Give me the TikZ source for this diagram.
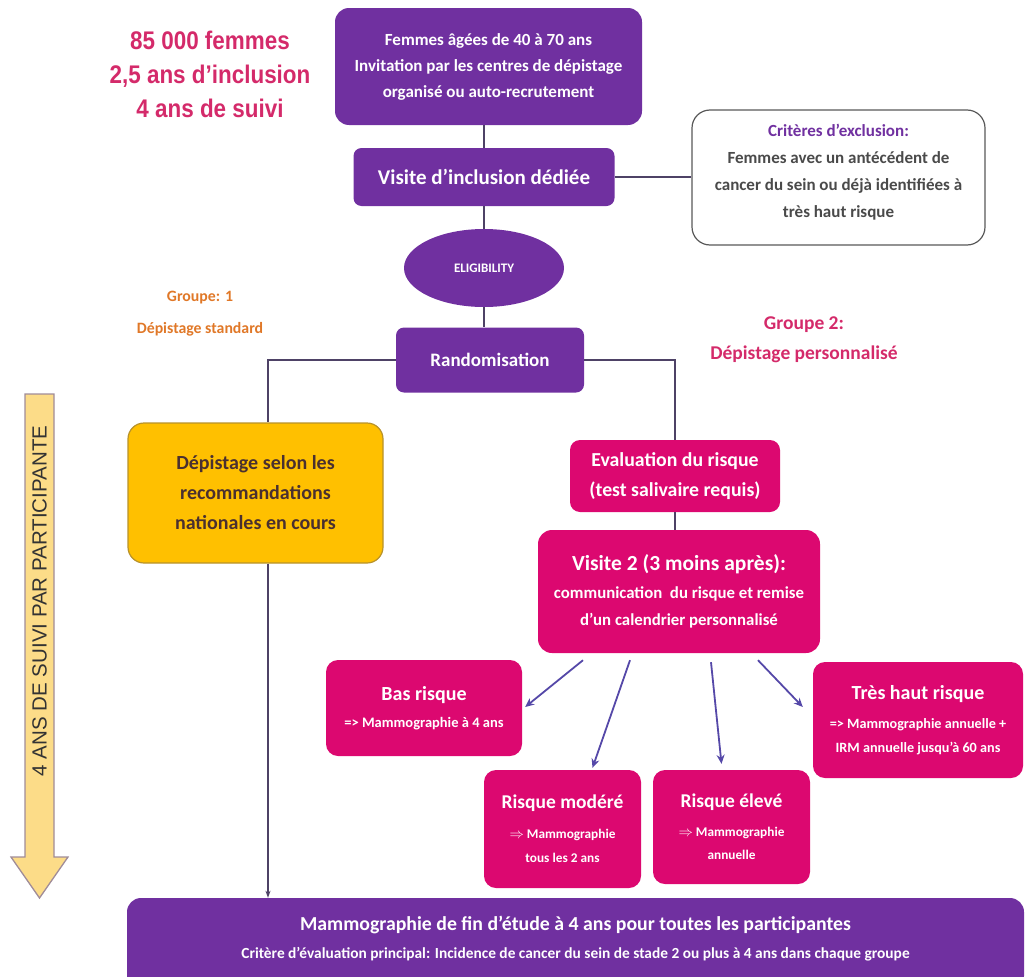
\documentclass[tikz,border=0pt]{standalone}
\usepackage{fontspec}
\setmainfont{Carlito}
\newfontfamily\numfont{Liberation Sans}[FakeStretch=0.88]
\newfontfamily\sidefont{Liberation Sans}
\usetikzlibrary{shapes.geometric,arrows.meta,calc}
\definecolor{purp}{HTML}{7030A0}
\definecolor{mag}{HTML}{DC0870}
\definecolor{yel}{HTML}{FFC000}
\definecolor{yelb}{HTML}{B8922A}
\definecolor{pinkt}{HTML}{D42A6A}
\definecolor{orgt}{HTML}{E07828}
\definecolor{conn}{HTML}{4E4266}
\definecolor{arr}{HTML}{5548A8}
\definecolor{arrfill}{HTML}{FCDC88}
\definecolor{arrdraw}{HTML}{A08C98}
\definecolor{deptxt}{HTML}{4A3030}
\definecolor{excltxt}{HTML}{4A4A4A}
\newcommand\fsz[2]{\fontsize{#1}{#2}\selectfont}
\begin{document}
\begin{tikzpicture}[x=1pt,y=-1pt,
  box/.style={rectangle, rounded corners=12pt, align=center, inner sep=2pt},
  pbox/.style={box, fill=purp, text=white},
  mbox/.style={box, fill=mag, text=white},
  conline/.style={draw=conn, line width=1.4pt},
  riskarrow/.style={draw=arr, line width=1.8pt, -{Stealth[length=9pt,width=8pt]}},
  grouptext/.style={align=center}
]
\useasboundingbox (0,0) rectangle (1026,977);

% left time arrow
\draw[fill=arrfill, draw=arrdraw, line width=1.3pt]
  (25,394) -- (54,394) -- (54,857) -- (68,857) -- (39.5,898) -- (11,857) -- (25,857) -- cycle;
\node[rotate=90, font=\sidefont\fsz{20.5}{22}, text=black!80] (side) at (39.5,601) {4 ANS DE SUIVI PAR PARTICIPANTE};

% header text
\node[font=\numfont\bfseries\fsz{25.5}{34}, text=pinkt, align=center] (head) at (210,74) {85 000 femmes\\2,5 ans d’inclusion\\4 ans de suivi};

% boxes
\node[pbox, font=\bfseries\fsz{17}{26}, minimum width=307, minimum height=117, rounded corners=14pt] (top) at (488.5,66.5)
  {Femmes âgées de 40 à 70 ans\\Invitation par les centres de dépistage\\organisé ou auto-recrutement};
\node[pbox, font=\bfseries\fsz{21}{24}, minimum width=261, minimum height=58, rounded corners=8pt] (vis) at (484,177)
  {Visite d’inclusion dédiée};
\node[box, draw=black!65, line width=1.2pt, fill=white, minimum width=293, minimum height=135,
      rounded corners=18pt] (excl) at (838.5,177.5) {};
\node[font=\bfseries\fsz{17}{27}, text=excltxt, align=center] (excltxt) at (838.5,172)
  {\textcolor{purp}{Critères d’exclusion:}\\Femmes avec un antécédent de\\cancer du sein ou déjà identifiées à\\très haut risque};
\node[ellipse, fill=purp, text=white, minimum width=160, minimum height=78, font=\bfseries\fsz{13}{15}] (elig) at (484,268)
  {ELIGIBILITY};
\node[grouptext, text=orgt, font=\bfseries\fsz{15.8}{32}] (g1) at (200,314) {Groupe: 1\\Dépistage standard};
\node[pbox, font=\bfseries\fsz{19}{22}, minimum width=188, minimum height=65, rounded corners=8pt] (rand) at (490,360)
  {Randomisation};
\node[grouptext, text=pinkt, font=\bfseries\fsz{19.5}{30}] (g2) at (804,340) {Groupe 2:\\Dépistage personnalisé};
\node[box, font=\bfseries\fsz{20}{30}, fill=yel, draw=yelb, line width=1.2pt, text=deptxt, minimum width=255, minimum height=140,
      rounded corners=16pt] (dep) at (255.5,493)
  {Dépistage selon les\\recommandations\\nationales en cours};
\node[mbox, font=\bfseries\fsz{19.8}{30}, minimum width=210, minimum height=72, rounded corners=10pt] (eval) at (675,476)
  {Evaluation du risque\\(test salivaire requis)};
\node[mbox, font=\bfseries\fsz{16.8}{27}, minimum width=282, minimum height=123, rounded corners=14pt] (v2) at (679,591.5)
  {\fsz{21.5}{30}Visite 2 (3 moins après):\\[1pt]communication\ \ du risque et remise\\d’un calendrier personnalisé};
\node[mbox, font=\bfseries\fsz{14.5}{27}, minimum width=196, minimum height=96, rounded corners=12pt] (bas) at (424,708)
  {\fsz{20}{28}Bas risque\\=> Mammographie à 4 ans};
\node[mbox, font=\bfseries\fsz{14.2}{24}, minimum width=210, minimum height=116, rounded corners=12pt] (thr) at (918,720)
  {\fsz{20}{28}Très haut risque\\[5pt]=> Mammographie annuelle +\\IRM annuelle jusqu’à 60 ans};
\node[mbox, font=\bfseries\fsz{13.3}{24}, minimum width=157, minimum height=118, rounded corners=12pt] (mod) at (562.5,829)
  {\fsz{19.5}{30}Risque modéré\\[6pt]$\Rightarrow$ Mammographie\\tous les 2 ans};
\node[mbox, font=\bfseries\fsz{13.3}{23}, minimum width=157, minimum height=114, rounded corners=12pt] (elev) at (731.5,827)
  {\fsz{19.5}{30}Risque élevé\\[6pt]$\Rightarrow$ Mammographie\\annuelle};
\node[pbox, minimum width=897, minimum height=92, rounded corners=14pt] (bot) at (575.5,944) {};
\node[font=\bfseries\fsz{15.4}{28}, text=white, align=center] (bottxt) at (575.5,939)
  {\fsz{19.8}{28}Mammographie de fin d’étude à 4 ans pour toutes les participantes\\Critère d’évaluation principal: Incidence de cancer du sein de stade 2 ou plus à 4 ans dans chaque groupe};

% connectors
\draw[conline] (vis.north) -- (vis.north |- top.south);
\draw[conline] (vis.south) -- (elig.north);
\draw[conline] (vis.east) -- (vis.east -| excl.west);
\draw[conline] (elig.south) -- (elig.south |- rand.north);
\coordinate (dl) at ($(dep.north)+(12.5,0)$);
\coordinate (dlb) at ($(dep.south)+(12.5,0)$);
\draw[conline] (rand.west) -| (dl);
\draw[conline] (rand.east) -| (eval.north);
\draw[conline] (eval.south) -- (eval.south |- v2.north);
\draw[conline, line width=1.1pt, -{Stealth[length=7pt,width=5pt]}] (dlb) -- (dlb |- bot.north);

% risk arrows
\coordinate (s1) at ($(v2.south)+(-96,7)$);
\coordinate (s2) at ($(v2.south)+(-49,7)$);
\coordinate (s3) at ($(v2.south)+(32,9)$);
\coordinate (s4) at ($(v2.south)+(79,7)$);
\draw[riskarrow] (s1) -- ($(bas.east)+(3,-1)$);
\draw[riskarrow] (s2) -- ($(mod.north)+(30,-2)$);
\draw[riskarrow] (s3) -- ($(elev.north)+(-10,-6)$);
\draw[riskarrow] (s4) -- ($(thr.west)+(-10,-13)$);
\end{tikzpicture}
\end{document}
